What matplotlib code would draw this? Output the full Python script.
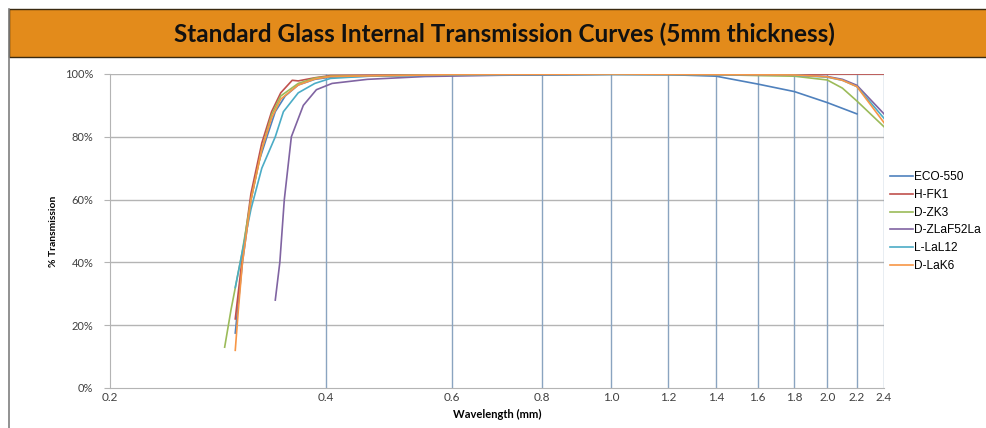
import matplotlib.pyplot as plt
import matplotlib.transforms as mtransforms
from matplotlib.patches import Rectangle
from matplotlib.lines import Line2D

# wavelength (mm) / internal transmission (%)
eco_w = [0.299, 0.306, 0.3145, 0.3225, 0.331, 0.340, 0.351, 0.366, 0.386, 0.406, 0.5, 0.7, 1.0, 1.2, 1.4, 1.6, 1.8, 2.0, 2.2]
eco_t = [17.5, 40, 60, 72, 80, 88, 93, 96.5, 98.3, 99.0, 99.5, 99.7, 99.9, 99.8, 99.3, 96.8, 94.4, 90.9, 87.3]

hfk_w = [0.299, 0.306, 0.3145, 0.3256, 0.336, 0.346, 0.359, 0.366, 0.386, 0.406, 0.6, 1.0, 2.4]
hfk_t = [22, 42, 62, 78, 88, 94, 98, 97.8, 98.8, 99.5, 99.8, 100, 100]

dzk_w = [0.289, 0.295, 0.305, 0.3145, 0.3256, 0.336, 0.346, 0.366, 0.386, 0.406, 0.6, 1.0, 1.4, 1.6, 1.8, 2.0, 2.1, 2.2, 2.4]
dzk_t = [13, 25, 42, 60, 76, 87, 93, 97, 98.7, 99.3, 99.7, 99.9, 99.8, 99.5, 99.3, 98.1, 95.5, 91.4, 83.2]

dzl_w = [0.340, 0.345, 0.350, 0.358, 0.372, 0.388, 0.408, 0.457, 0.55, 0.7, 1.0, 1.6, 1.8, 2.0, 2.1, 2.2, 2.4]
dzl_t = [28, 40, 60, 80, 90, 95, 97, 98.3, 99.2, 99.6, 99.9, 99.8, 99.7, 99.2, 98.3, 96.4, 87.3]

lal_w = [0.299, 0.305, 0.3145, 0.3256, 0.340, 0.349, 0.366, 0.386, 0.406, 0.457, 0.6, 1.0, 1.6, 1.8, 2.0, 2.1, 2.2, 2.4]
lal_t = [32, 42, 57, 70, 80, 88, 94, 97, 98.6, 99.3, 99.7, 99.9, 99.8, 99.6, 99.0, 98.0, 96.0, 85.9]

lak_w = [0.299, 0.302, 0.306, 0.3145, 0.3256, 0.336, 0.346, 0.366, 0.386, 0.406, 0.6, 1.0, 1.8, 2.0, 2.1, 2.2, 2.4]
lak_t = [12, 25, 40, 60, 76, 86, 92, 96.5, 98.4, 99.2, 99.8, 100, 99.7, 99.1, 98.0, 96.0, 84.5]

names = ['ECO-550', 'H-FK1', 'D-ZK3', 'D-ZLaF52La', 'L-LaL12', 'D-LaK6']
colors = ['#4F81BD', '#C0504D', '#9BBB59', '#8064A2', '#4BACC6', '#F79646']
xticks = [0.2, 0.4, 0.6, 0.8, 1.0, 1.2, 1.4, 1.6, 1.8, 2.0, 2.2, 2.4]
yticks = [0, 20, 40, 60, 80, 100]

fig = plt.figure(figsize=(9.86, 4.28), dpi=100)

# header band and frame
fig.patches.append(Rectangle((9/986, 1-57/428), 1, 48/428, transform=fig.transFigure,
                             facecolor='#E38B1B', edgecolor='#3a2a10', lw=1.0))
fig.add_artist(Line2D([9/986, 9/986], [0, 1-9/428], color='#7f7f7f', lw=1.2))
fig.text(504/986, 1-34/428, 'Standard Glass Internal Transmission Curves (5mm thickness)',
         ha='center', va='center', fontsize=17.5, fontweight='bold', family='Lato', color='#111111')

ax = fig.add_axes([110/986, 1-388/428, 774/986, 314/428])
ax.set_xscale('log')
ax.set_xlim(0.2, 2.4)
ax.set_ylim(0, 100)

for y in yticks[1:]:
    ax.axhline(y, color='#B4B4B4', lw=1.0, zorder=1)
for x in xticks[1:]:
    ax.axvline(x, color='#8AA4C0', lw=1.0, zorder=1)

series = [(eco_w, eco_t), (hfk_w, hfk_t), (dzk_w, dzk_t), (dzl_w, dzl_t), (lal_w, lal_t), (lak_w, lak_t)]
for (w, t), name, c in zip(series, names, colors):
    ax.plot(w, t, color=c, lw=1.2, label=name, zorder=3)

ax.set_xticks(xticks)
ax.set_xticklabels(['%.1f' % v for v in xticks], family='Lato', fontsize=8.5, color='#404040')
ax.minorticks_off()
# first label sits a little right of the axis, like the original
lbl0 = ax.get_xticklabels()[0]
lbl0.set_transform(lbl0.get_transform() + mtransforms.ScaledTranslation(7/100, 0, fig.dpi_scale_trans))
ax.set_yticks(yticks)
ax.set_yticklabels(['%d%%' % v for v in yticks], family='Lato', fontsize=8, color='#404040')
ax.tick_params(axis='x', length=0, pad=3)
ax.tick_params(axis='y', length=4, color='#B4B4B4', pad=8)
for s in ['top', 'right']:
    ax.spines[s].set_visible(False)
ax.spines['left'].set_color('#B4B4B4')
ax.spines['bottom'].set_color('#B4B4B4')

ax.set_xlabel('Wavelength (mm)', family='Lato', fontweight='bold', fontsize=8, labelpad=4)
ax.set_ylabel('% Transmission', family='Lato', fontweight='bold', fontsize=7.5, labelpad=5)

ax.legend(loc='center left', bbox_to_anchor=(1.008, 0.53), frameon=False,
          prop={'family': 'Liberation Sans', 'size': 8.6}, handlelength=1.9,
          handletextpad=0.1, labelspacing=0.48, borderaxespad=0, borderpad=0)

fig.savefig('out.png', dpi=100)
